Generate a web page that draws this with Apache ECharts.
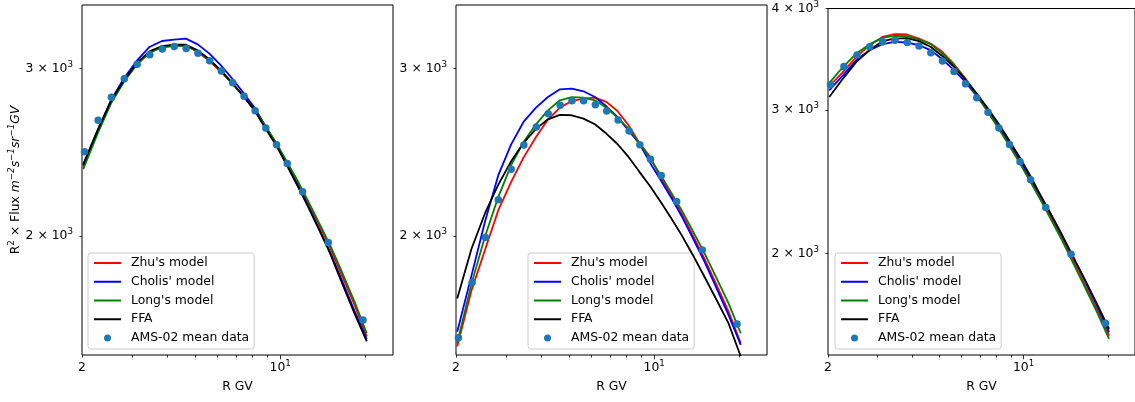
<!DOCTYPE html>
<html>
<head>
<meta charset="utf-8">
<script src="https://cdn.jsdelivr.net/npm/echarts@6/dist/echarts.min.js"></script>
<style>
  html, body { margin: 0; padding: 0; background: #fff; }
  #chart { width: 1135px; height: 402px; }
</style>
</head>
<body>
<div id="chart"></div>
<script>
// rigidity of the AMS-02 bins and of the model curves (GV)
const dataR = [2.04, 2.28, 2.54, 2.82, 3.13, 3.47, 3.84, 4.23, 4.66, 5.13, 5.64, 6.20, 6.80, 7.46, 8.16, 8.90, 9.71, 10.59, 12.0, 14.78, 19.6];
const modelR = [2.02, 2.27, 2.53, 2.82, 3.13, 3.46, 3.83, 4.22, 4.65, 5.12, 5.63, 6.18, 6.78, 7.42, 8.12, 8.87, 9.68, 10.55, 11.5, 12.5, 13.7, 15.0, 16.5, 18.3, 20.2];

// panel 1
const ams1 = [2453, 2648, 2799, 2927, 3032, 3103, 3146, 3165, 3150, 3115, 3059, 2983, 2900, 2806, 2710, 2599, 2496, 2384, 2227, 1970, 1633];
const zhu1 = [2365, 2574, 2768, 2917, 3037, 3121, 3162, 3172, 3172, 3123, 3056, 2978, 2893, 2808, 2717, 2610, 2506, 2390, 2281, 2173, 2057, 1946, 1820, 1693, 1568];
const cholis1 = [2375, 2584, 2779, 2935, 3061, 3162, 3208, 3218, 3226, 3182, 3111, 3024, 2928, 2829, 2730, 2612, 2498, 2380, 2266, 2157, 2037, 1924, 1798, 1668, 1558];
const long1 = [2352, 2564, 2757, 2910, 3032, 3118, 3159, 3169, 3172, 3128, 3061, 2981, 2893, 2806, 2712, 2610, 2506, 2396, 2290, 2182, 2067, 1957, 1835, 1706, 1581];
const ffa1 = [2380, 2584, 2774, 2921, 3044, 3128, 3169, 3179, 3179, 3136, 3069, 2988, 2898, 2808, 2712, 2595, 2492, 2375, 2261, 2152, 2033, 1918, 1787, 1658, 1550];

// panel 2
const ams2 = [1564, 1788, 1994, 2184, 2352, 2494, 2605, 2690, 2745, 2776, 2776, 2749, 2708, 2650, 2580, 2496, 2409, 2316, 2175, 1934, 1617];
const zhu2 = [1531, 1755, 1934, 2130, 2281, 2419, 2543, 2652, 2730, 2774, 2790, 2797, 2768, 2708, 2616, 2506, 2423, 2305, 2208, 2113, 2002, 1898, 1784, 1666, 1543];
const cholis2 = [1587, 1820, 2071, 2318, 2498, 2637, 2730, 2801, 2854, 2858, 2840, 2801, 2739, 2669, 2584, 2502, 2388, 2290, 2194, 2099, 1989, 1884, 1770, 1652, 1537];
const long2 = [1543, 1784, 1997, 2200, 2375, 2512, 2622, 2712, 2779, 2801, 2797, 2779, 2730, 2665, 2595, 2506, 2413, 2318, 2221, 2130, 2024, 1923, 1813, 1700, 1581];
const ffa2 = [1720, 1941, 2113, 2266, 2398, 2506, 2593, 2654, 2682, 2680, 2658, 2622, 2564, 2500, 2423, 2337, 2257, 2173, 2087, 2005, 1910, 1816, 1720, 1619, 1495];

// panel 3
const ams3 = [3224, 3394, 3506, 3589, 3640, 3657, 3633, 3596, 3529, 3448, 3346, 3233, 3108, 2981, 2852, 2722, 2593, 2463, 2277, 1995, 1641];
const zhu3 = [3209, 3346, 3490, 3606, 3691, 3719, 3716, 3674, 3623, 3539, 3419, 3285, 3135, 2992, 2855, 2717, 2588, 2456, 2331, 2214, 2088, 1961, 1835, 1705, 1585];
const cholis3 = [3173, 3315, 3458, 3556, 3616, 3640, 3633, 3606, 3556, 3464, 3362, 3251, 3126, 3000, 2868, 2738, 2608, 2477, 2351, 2235, 2108, 1982, 1856, 1724, 1600];
const long3 = [3239, 3394, 3523, 3616, 3681, 3702, 3698, 3664, 3616, 3523, 3410, 3275, 3135, 2992, 2852, 2717, 2584, 2452, 2325, 2204, 2076, 1948, 1822, 1692, 1570];
const ffa3 = [3114, 3285, 3442, 3556, 3647, 3674, 3678, 3647, 3589, 3497, 3394, 3275, 3149, 3020, 2890, 2756, 2625, 2493, 2357, 2237, 2108, 1983, 1861, 1732, 1615];

// ticks
const xTickVals = [2, 10];
const xTickLabels = ['{b|2}', '{b|10}{s|1}'];
const xMinorTicks = [2, 3, 4, 5, 6, 7, 8, 9, 20];
const xMajorTicks = [10];
const yTickVals = [2000, 3000, 4000];
const yTickLabels = ['{b|2 × 10}{s|3}', '{b|3 × 10}{s|3}', '{b|4 × 10}{s|3}'];

const names = ["Zhu's model", "Cholis' model", "Long's model", 'FFA', 'AMS-02 mean data'];
const colors = ['#ff0000', '#0000ff', '#008000', '#000000', '#1f77b4'];

const panels = [
  { models: [zhu1, cholis1, long1, ffa1], ams: ams1, ymax: 3500, legendLeft: 88 },
  { models: [zhu2, cholis2, long2, ffa2], ams: ams2, ymax: 3500, legendLeft: 528 },
  { models: [zhu3, cholis3, long3, ffa3], ams: ams3, ymax: 4000, legendLeft: 835 }
];
const gridLeft = [82, 456, 828];
const font = 'DejaVu Sans';
const fs = 12.4;
const sup = 8.7;

const richTick = {
  b: { fontFamily: font, fontSize: fs, color: '#000', lineHeight: 17 },
  s: { fontFamily: font, fontSize: sup, color: '#000', lineHeight: 9, verticalAlign: 'top' }
};

function pick(vals, labels) {
  return function (v) {
    for (let i = 0; i < vals.length; i++) {
      if (Math.abs(Math.log10(v) - Math.log10(vals[i])) < 1e-6) return labels[i];
    }
    return '';
  };
}

let chart = echarts.init(document.getElementById('chart'), null, { renderer: 'canvas' });

const grid = [], xAxis = [], yAxis = [], series = [], legend = [];
panels.forEach((p, i) => {
  grid.push({ left: gridLeft[i], top: 5, width: 311, height: 350, show: true, borderColor: '#000', borderWidth: 1, backgroundColor: 'transparent' });
  xAxis.push({
    type: 'log', logBase: 10, gridIndex: i, min: 2, max: 25,
    axisLine: { show: false },
    splitLine: { show: false },
    axisTick: { show: true, length: 2.5, customValues: xMinorTicks, lineStyle: { color: '#000', width: 0.8 } },
    axisLabel: { customValues: xTickVals, formatter: pick(xTickVals, xTickLabels), color: '#000', fontFamily: font, fontSize: fs, margin: 4, rich: richTick },
    name: 'R GV', nameLocation: 'middle', nameGap: 26,
    nameTextStyle: { color: '#000', fontFamily: font, fontSize: fs }
  });
  yAxis.push({
    type: 'log', logBase: 10, gridIndex: i, min: 1500, max: p.ymax,
    axisLine: { show: false },
    splitLine: { show: false },
    axisTick: { show: true, length: 2.5, customValues: yTickVals.filter(v => v <= p.ymax), lineStyle: { color: '#000', width: 0.8 } },
    axisLabel: { customValues: yTickVals.filter(v => v <= p.ymax), formatter: pick(yTickVals, yTickLabels), color: '#000', fontFamily: font, fontSize: fs, margin: 9, rich: richTick },
    name: i === 0 ? '{n|R}{s|2}{n| × Flux }{i|m}{si|−2}{i|s}{si|−1}{i|sr}{si|−1}{i|GV}' : '',
    nameLocation: 'middle', nameGap: 56, nameRotate: 90,
    nameTextStyle: {
      color: '#000', fontFamily: font, fontSize: fs,
      rich: {
        n: { fontFamily: font, fontSize: fs, color: '#000', lineHeight: 17 },
        s: { fontFamily: font, fontSize: sup, color: '#000', lineHeight: 9, verticalAlign: 'top' },
        i: { fontFamily: font, fontSize: fs, color: '#000', fontStyle: 'italic', lineHeight: 17 },
        si: { fontFamily: font, fontSize: sup, color: '#000', fontStyle: 'italic', lineHeight: 9, verticalAlign: 'top' }
      }
    }
  });
  p.models.forEach((m, k) => {
    series.push({
      name: names[k], type: 'line', xAxisIndex: i, yAxisIndex: i,
      data: modelR.map((r, j) => [r, m[j]]),
      showSymbol: false, symbol: 'none', clip: true,
      lineStyle: { color: colors[k], width: 1.8 },
      itemStyle: { color: colors[k] },
      z: 2 + k
    });
  });
  series.push({
    name: names[4], type: 'scatter', xAxisIndex: i, yAxisIndex: i,
    data: dataR.map((r, j) => [r, p.ams[j]]),
    symbol: 'circle', symbolSize: 7.5,
    itemStyle: { color: colors[4], opacity: 1 },
    z: 10
  });
  legend.push({
    left: p.legendLeft, top: 253, orient: 'vertical',
    data: names.map((n, k) => k < 4 ? { name: n, itemStyle: { opacity: 0 } } : { name: n }),
    itemWidth: 27, itemHeight: 7, itemGap: 4.75,
    padding: [3, 5, 4, 5],
    borderColor: '#cccccc', borderWidth: 1, borderRadius: 3,
    backgroundColor: 'rgba(255,255,255,0.8)',
    selectedMode: false,
    textStyle: { fontFamily: font, fontSize: fs, color: '#000', lineHeight: 14, padding: [0, 0, 0, 5] }
  });
});

// separate axes carrying the longer major tick at 10
panels.forEach((p, i) => {
  xAxis.push({
    type: 'log', logBase: 10, gridIndex: i, min: 2, max: 25, position: 'bottom',
    axisLine: { show: false }, splitLine: { show: false },
    axisTick: { show: true, length: 4.3, customValues: xMajorTicks, lineStyle: { color: '#000', width: 0.8 } },
    axisLabel: { show: false }
  });
});

chart.setOption({
  animation: false,
  backgroundColor: '#fff',
  grid: grid,
  xAxis: xAxis,
  yAxis: yAxis,
  legend: legend,
  series: series
});
window.onresize = function () {
  chart.resize();
};
</script>
</body>
</html>
